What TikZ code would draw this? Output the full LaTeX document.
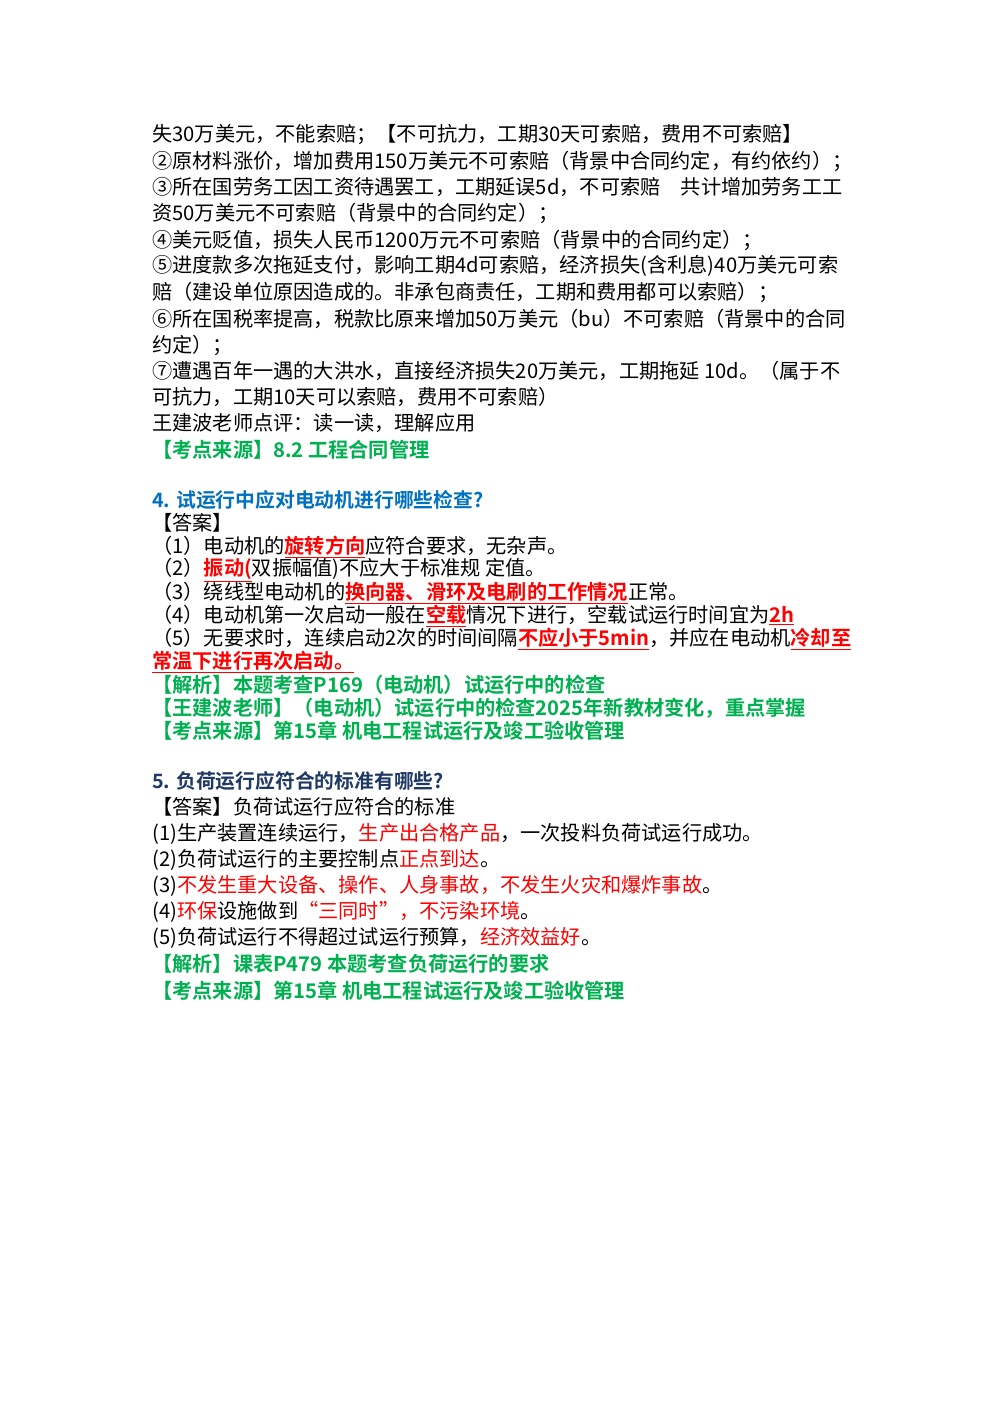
\documentclass[tikz,border=0pt]{standalone}
\usepackage{fontspec}
\setmainfont{Noto Sans CJK SC}
\newfontfamily\cjkb{Noto Sans CJK SC Bold}
\definecolor{rd}{HTML}{FF0000}
\definecolor{gr}{HTML}{00B050}
\definecolor{bl}{HTML}{0070C0}
\definecolor{db}{HTML}{1F3864}
\newcommand{\Rr}[1]{\textcolor{rd}{#1}}
\newcommand{\RU}[1]{\textcolor{rd}{\underline{\cjkb #1}}}
\tikzset{ln/.style={anchor=west,inner sep=0pt,font=\fontsize{20.2}{22}\selectfont},
 gl/.style={ln,text=gr,font=\fontsize{20.2}{22}\selectfont\cjkb},
 hd/.style={ln,font=\fontsize{19.8}{22}\selectfont\cjkb}}
\begin{document}
\begin{tikzpicture}[x=1pt,y=-1pt]
\useasboundingbox (0,0) rectangle (1000,1414);
\node[ln] (a1) at (152,135) {失30万美元，不能索赔；【不可抗力，工期30天可索赔，费用不可索赔】};
\node[ln] (a2) at (152,161) {②原材料涨价，增加费用150万美元不可索赔（背景中合同约定，有约依约）；};
\node[ln] (a3) at (152,187) {③所在国劳务工因工资待遇罢工，工期延误5d，不可索赔\quad 共计增加劳务工工};
\node[ln] (a4) at (152,213) {资50万美元不可索赔（背景中的合同约定）；};
\node[ln] (a5) at (152,240) {④美元贬值，损失人民币1200万元不可索赔（背景中的合同约定）；};
\node[ln] (a6) at (152,266) {⑤进度款多次拖延支付，影响工期4d可索赔，经济损失(含利息)40万美元可索};
\node[ln] (a7) at (152,292) {赔（建设单位原因造成的。非承包商责任，工期和费用都可以索赔）；};
\node[ln] (a8) at (152,319) {⑥所在国税率提高，税款比原来增加50万美元（bu）不可索赔（背景中的合同};
\node[ln] (a9) at (152,345) {约定）；};
\node[ln] (a10) at (152,371) {⑦遭遇百年一遇的大洪水，直接经济损失20万美元，工期拖延\ 10d。（属于不};
\node[ln] (a11) at (152,397) {可抗力，工期10天可以索赔，费用不可索赔）};
\node[ln] (a12) at (152,423) {王建波老师点评：读一读，理解应用};
\node[gl] (a13) at (152,450) {【考点来源】8.2 工程合同管理};
\node[hd,text=bl] (b0) at (152,500) {4. 试运行中应对电动机进行哪些检查?};
\node[ln] (b1) at (152,523) {【答案】};
\node[ln] (b2) at (152,547) {（1）电动机的\RU{旋转方向}应符合要求，无杂声。};
\node[ln] (b3) at (152,570) {（2）\RU{振动(}双振幅值)不应大于标准规\ 定值。};
\node[ln] (b4) at (152,593) {（3）绕线型电动机的\RU{换向器、滑环及电刷的工作情况}正常。};
\node[ln] (b5) at (152,616) {（4）电动机第一次启动一般在\RU{空载}情况下进行，空载试运行时间宜为\RU{2h}};
\node[ln] (b6) at (152,639) {（5）无要求时，连续启动2次的时间间隔\RU{不应小于5min}，并应在电动机\RU{冷却至}};
\node[ln] (b7) at (152,662) {\RU{常温下进行再次启动。}};
\node[gl] (b8) at (152,685) {【解析】本题考查P169（电动机）试运行中的检查};
\node[gl] (b9) at (152,708) {【王建波老师】（电动机）试运行中的检查2025年新教材变化，重点掌握};
\node[gl] (b10) at (152,731) {【考点来源】第15章\ 机电工程试运行及竣工验收管理};
\node[hd,text=db] (c0) at (152,781) {5. 负荷运行应符合的标准有哪些?};
\node[ln] (c1) at (152,807) {【答案】负荷试运行应符合的标准};
\node[ln] (c2) at (152,834) {(1)生产装置连续运行，\Rr{生产出合格产品}，一次投料负荷试运行成功。};
\node[ln] (c3) at (152,860) {(2)负荷试运行的主要控制点\Rr{正点到达}。};
\node[ln] (c4) at (152,886) {(3)\Rr{不发生重大设备、操作、人身事故，不发生火灾和爆炸事故}。};
\node[ln] (c5) at (152,912) {(4)\Rr{环保}设施做到\Rr{“三同时”，不污染环境}。};
\node[ln] (c6) at (152,938) {(5)负荷试运行不得超过试运行预算，\Rr{经济效益好}。};
\node[gl] (c7) at (152,964) {【解析】课表P479\ 本题考查负荷运行的要求};
\node[gl] (c8) at (152,991) {【考点来源】第15章\ 机电工程试运行及竣工验收管理};
\end{tikzpicture}
\end{document}
